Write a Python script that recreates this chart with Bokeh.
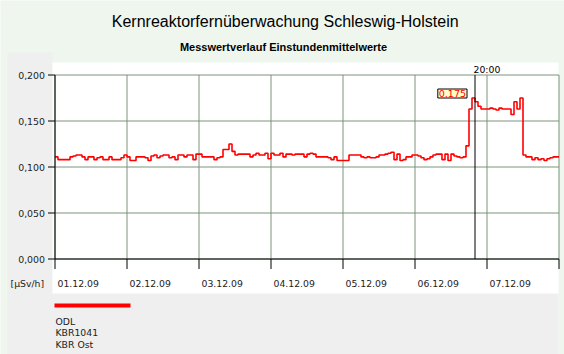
from math import pi
from bokeh.plotting import figure
from bokeh.models import Range1d, Label
from bokeh.core.properties import value
from bokeh.embed import file_html
from bokeh.resources import INLINE
import pandas as pd

# ---------------- data ----------------
TITLE = "Kernreaktorfernüberwachung Schleswig-Holstein"
SUBTITLE = "Messwertverlauf Einstundenmittelwerte"
UNIT = "[µSv/h]"
LEGEND_LINES = ["ODL", "KBR1041", "KBR Ost"]
DAY_LABELS = ["01.12.09", "02.12.09", "03.12.09", "04.12.09", "05.12.09", "06.12.09", "07.12.09"]
Y_TICKS = [0.0, 0.05, 0.10, 0.15, 0.20]
Y_TICK_LABELS = ["0,000", "0,050", "0,100", "0,150", "0,200"]
START = "2009-12-01 00:00"
MARK_TIME = "2009-12-06 20:00"
MARK_LABEL = "20:00"
PEAK_TEXT = "0.175"
PEAK_VALUE = 0.175

day1 = [0.111, 0.108, 0.108, 0.108, 0.108, 0.111, 0.112, 0.113, 0.113, 0.111, 0.108, 0.111,
        0.111, 0.108, 0.110, 0.111, 0.108, 0.108, 0.111, 0.108, 0.108, 0.108, 0.110, 0.113]
day2 = [0.111, 0.107, 0.107, 0.111, 0.111, 0.111, 0.110, 0.107, 0.112, 0.113, 0.110, 0.112,
        0.113, 0.113, 0.110, 0.111, 0.108, 0.113, 0.113, 0.111, 0.113, 0.113, 0.108, 0.114]
day3 = [0.114, 0.111, 0.111, 0.111, 0.111, 0.108, 0.110, 0.111, 0.119, 0.119, 0.125, 0.117,
        0.113, 0.114, 0.114, 0.114, 0.114, 0.111, 0.113, 0.115, 0.113, 0.113, 0.115, 0.109]
day4 = [0.115, 0.113, 0.113, 0.115, 0.111, 0.114, 0.114, 0.113, 0.114, 0.114, 0.114, 0.111,
        0.114, 0.115, 0.114, 0.111, 0.111, 0.111, 0.111, 0.110, 0.108, 0.111, 0.107, 0.107]
day5 = [0.107, 0.107, 0.113, 0.113, 0.113, 0.113, 0.111, 0.110, 0.111, 0.110, 0.110, 0.111,
        0.113, 0.113, 0.114, 0.115, 0.116, 0.108, 0.114, 0.107, 0.108, 0.111, 0.111, 0.113]
day6 = [0.113, 0.112, 0.110, 0.108, 0.109, 0.111, 0.113, 0.114, 0.114, 0.108, 0.114, 0.107,
        0.114, 0.112, 0.111, 0.110, 0.111, 0.123, 0.163, 0.175, 0.171, 0.166, 0.163, 0.163]
day7 = [0.163, 0.164, 0.163, 0.162, 0.164, 0.163, 0.163, 0.163, 0.157, 0.171, 0.163, 0.175,
        0.113, 0.111, 0.111, 0.108, 0.110, 0.108, 0.109, 0.107, 0.109, 0.110, 0.111, 0.111]

values = day1 + day2 + day3 + day4 + day5 + day6 + day7
times = pd.date_range(START, periods=len(values) + 1, freq="h")
step_y = values + [values[-1]]

days = pd.date_range(START, periods=len(DAY_LABELS) + 1, freq="D")
day_ms = [t.timestamp() * 1000 for t in days]
mark_ms = pd.Timestamp(MARK_TIME).timestamp() * 1000

# ---------------- layout / style ----------------
W, H = 564, 354
PL, PR, PT, PB = 54.5, 558.5, 74.5, 258.5      # plot frame (pixel centres of border lines)
FONT_SMALL = "DejaVu Sans"
FONT_TITLE = "Liberation Sans"
BG = "#eef6ee"
PANEL = "#efefef"
GRID = "#7b947b"
TXT = "#222222"

ms_per_px = (day_ms[-1] - day_ms[0]) / (PR - PL)
x_start = day_ms[0] - PL * ms_per_px
x_end = day_ms[-1] + (W - PR) * ms_per_px
y_max = Y_TICKS[-1]
u_per_px = y_max / (PB - PT)
y_start = -(H - PB) * u_per_px
y_end = y_max + PT * u_per_px

p = figure(width=W, height=H, output_backend="svg", toolbar_location=None,
           x_range=Range1d(x_start, x_end), y_range=Range1d(y_start, y_end),
           x_axis_location=None, y_axis_location=None, min_border=0)
for g in p.grid:
    g.visible = False
p.outline_line_color = None
p.background_fill_color = BG
p.border_fill_color = BG
p.extra_x_ranges = {"px": Range1d(0, W)}
p.extra_y_ranges = {"px": Range1d(H, 0)}

PX = dict(x_range_name="px", y_range_name="px")

# background panels
p.quad(left=[7, 7], right=[52, 558], top=[52, 293], bottom=[354, 354],
       fill_color=PANEL, line_color=None, **PX)
p.quad(left=[52], right=[558], top=[62], bottom=[293],
       fill_color="white", line_color=None, **PX)

# grid
p.segment(x0=day_ms, y0=[0] * len(day_ms), x1=day_ms, y1=[y_max] * len(day_ms),
          line_color=GRID, line_width=1)
p.segment(x0=[day_ms[0]] * len(Y_TICKS), y0=Y_TICKS, x1=[day_ms[-1]] * len(Y_TICKS), y1=Y_TICKS,
          line_color=GRID, line_width=1)

# data
p.step(times, step_y, mode="after", line_color="#ff0000", line_width=1.6)

# axes lines and ticks
p.segment(x0=[day_ms[0], day_ms[0]], y0=[0, 0], x1=[day_ms[0], day_ms[-1]], y1=[y_max, 0],
          line_color="black", line_width=1)
p.ray(x=[day_ms[0]] * len(Y_TICKS), y=Y_TICKS, length=7, angle=pi, length_units="screen",
      line_color="black", line_width=1)
p.ray(x=day_ms, y=[0] * len(day_ms), length=10, angle=-pi / 2, length_units="screen",
      line_color="black", line_width=1)

# tick labels
p.text(x=[day_ms[0]] * len(Y_TICKS), y=Y_TICKS, text=Y_TICK_LABELS, x_offset=-10,
       text_align="right", text_baseline="middle", text_font=value(FONT_SMALL),
       text_font_size="9.4px", text_color=TXT)
p.text(x=day_ms[:-1], y=[283] * len(DAY_LABELS), y_range_name="px", text=DAY_LABELS,
       x_offset=2.5, text_align="left", text_baseline="middle", text_font=value(FONT_SMALL),
       text_font_size="9.3px", text_color=TXT)
p.text(x=[10], y=[283], text=[UNIT], text_align="left", text_baseline="middle",
       text_font=value(FONT_SMALL), text_font_size="9.3px", text_color=TXT, **PX)

# marker line + labels
p.segment(x0=[mark_ms], y0=[0], x1=[mark_ms], y1=[y_max], line_color="black", line_width=1)
p.text(x=[mark_ms], y=[69], y_range_name="px", text=[MARK_LABEL], x_offset=-1.5,
       text_align="left", text_baseline="middle", text_font=value(FONT_SMALL),
       text_font_size="9.3px", text_color="black")
p.add_layout(Label(x=mark_ms, y=PEAK_VALUE, text=PEAK_TEXT, x_offset=-8, y_offset=4.5,
                   text_align="right", text_baseline="middle",
                   text_font=FONT_SMALL, text_font_size="9.5px", text_color="#ff0000",
                   background_fill_color="#ffffc8", background_fill_alpha=1,
                   border_line_color="black", border_line_width=1, padding=1))

# titles
p.text(x=[284.7], y=[21], text=[TITLE], text_align="center", text_baseline="alphabetic",
       text_font=value(FONT_TITLE), text_font_size="16px", text_color="black", **PX)
p.text(x=[283], y=[46], text=[SUBTITLE], text_align="center", text_baseline="alphabetic",
       text_font=value(FONT_TITLE), text_font_style="bold",
       text_font_size="11px", text_color="black", **PX)

# legend
p.quad(left=[54], right=[130], top=[303], bottom=[307], fill_color="#ff0000",
       line_color=None, **PX)
p.text(x=[55] * len(LEGEND_LINES), y=[321, 332, 344], text=LEGEND_LINES, text_align="left",
       text_baseline="middle", text_font=value(FONT_SMALL), text_font_size="9.3px",
       text_color=TXT, **PX)

open("out.html", "w").write(file_html(p, INLINE))
